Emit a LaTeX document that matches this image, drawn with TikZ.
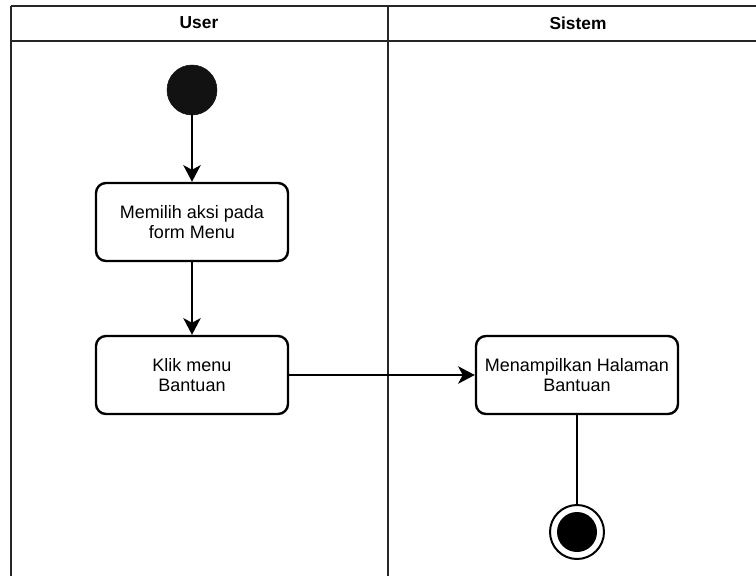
\documentclass[tikz,border=0pt]{standalone}
\usepackage{fontspec}
\setmainfont{Liberation Sans}
\usetikzlibrary{arrows.meta}

\begin{document}
\begin{tikzpicture}[
  x=0.75pt, y=-0.75pt,
  lane/.style={line width=1.4pt, black!85},
  ttl/.style={font=\fontsize{13}{15}\selectfont\bfseries},
  act/.style={draw, rounded corners=7.5pt, line width=1.8pt, fill=white, align=center,
    minimum width=144pt, minimum height=58.5pt, inner sep=2pt,
    font=\fontsize{13.5}{15.5}\selectfont},
  init/.style={circle, draw=black!93, fill=black!93, minimum size=37.5pt, inner sep=0pt},
  final/.style={circle, draw, line width=1.5pt, fill=white, minimum size=40.5pt, inner sep=0pt,
    path picture={\fill[black] (path picture bounding box.center) circle (15pt);}},
  flow/.style={line width=2pt, -{Stealth[length=12.5pt, width=13pt, inset=3.5pt]}},
]
\useasboundingbox (0,0) rectangle (756,576);

% ====== Swimlanes ======
\draw[lane] (11,6) -- (756,6);
\draw[lane] (11,41) -- (756,41);
\draw[lane] (11,6) -- (11,576);
\draw[lane] (388,6) -- (388,576);
\node[ttl] (user) at (199,23) {User};
\node[ttl] (sistem) at (578,23) {Sistem};

% ====== Activities ======
\node[init] (start) at (192,90) {};
\node[act] (pilih) at (192,222) {Memilih aksi pada\\form Menu};
\node[act] (klik) at (192,375) {Klik menu\\Bantuan};
\node[act, minimum width=151.5pt] (tampil) at (577,375) {Menampilkan Halaman\\Bantuan};
\node[final] (stop) at (577,532) {};

% ====== Flows ======
\draw[flow] (start) -- (pilih);
\draw[flow] (pilih) -- (klik);
\draw[flow] (klik) -- (tampil);
\draw[line width=2pt] (tampil) -- (stop);

\end{tikzpicture}
\end{document}
